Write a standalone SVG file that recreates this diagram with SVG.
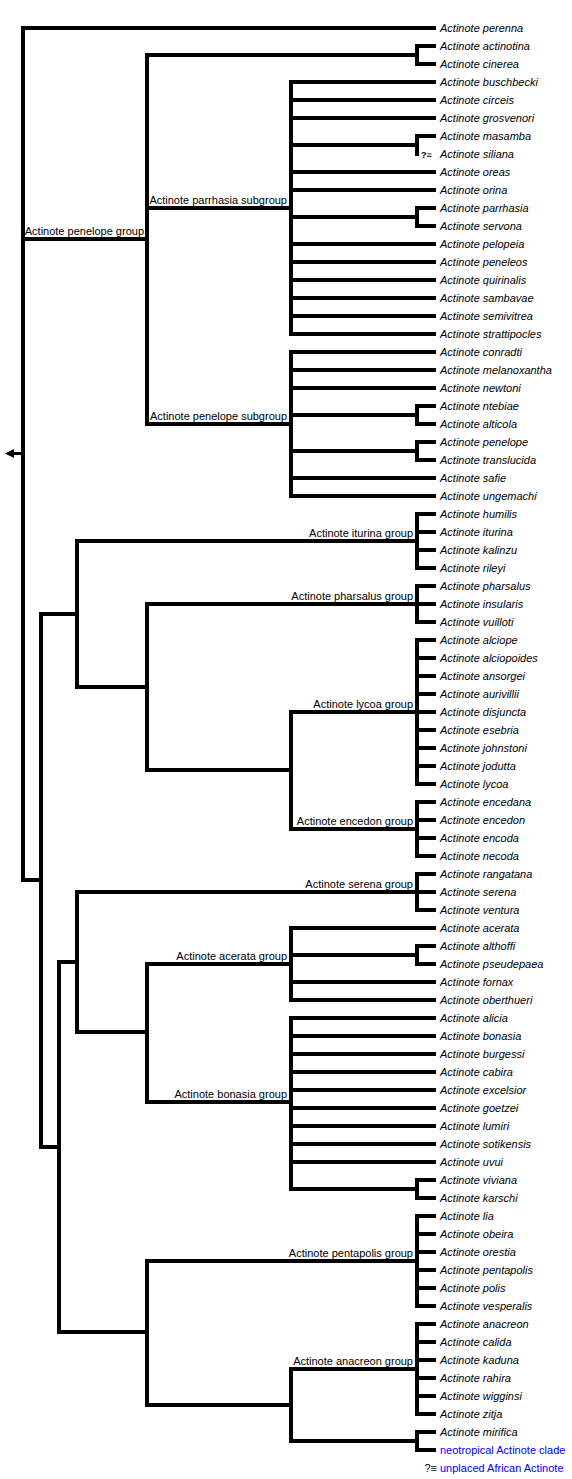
<svg xmlns="http://www.w3.org/2000/svg" width="572" height="1479" viewBox="0 0 572 1479">
<style>
.h{stroke:#000;stroke-width:4;fill:none;stroke-linecap:butt}
.v{stroke:#000;stroke-width:4;fill:none;stroke-linecap:square}
text{font-family:"Liberation Sans",Arial,sans-serif;font-size:11px;fill:#000}
.l{font-style:italic}
.g{text-anchor:end}
.b{fill:#0000ff}
</style>
<rect width="572" height="1479" fill="#fff"/>
<g id="connectors">
<path class="h" d="M23 28H436M23 239H147M23 880H41
M147 55H417M417 46H436M417 64H436
M147 208H291M147 424H291
M291 82H436M291 100H436M291 118H436
M291 145H417M417 136H436
M291 172H436M291 190H436
M291 217H417M417 208H436M417 226H436
M291 244H436M291 262H436M291 280H436M291 298H436M291 316H436M291 334H436
M291 352H436M291 370H436M291 388H436
M291 415H417M417 406H436M417 424H436
M291 451H417M417 442H436M417 460H436
M291 478H436M291 496H436
M41 614H77M41 1147H59
M77 541H417M417 514H436M417 532H436M417 550H436M417 568H436
M77 687H147
M147 604H417M417 586H436M417 604H436M417 622H436
M147 770H291
M291 712H417M417 640H436M417 658H436M417 676H436M417 694H436M417 712H436M417 730H436M417 748H436M417 766H436M417 784H436
M291 829H417M417 802H436M417 820H436M417 838H436M417 856H436
M59 962H77M59 1332H147
M77 892H417M417 874H436M417 892H436M417 910H436
M77 1032H147
M147 964H291M291 928H436M291 955H417M417 946H436M417 964H436M291 982H436M291 1000H436
M147 1102H291M291 1018H436M291 1036H436M291 1054H436M291 1072H436M291 1090H436M291 1108H436M291 1126H436M291 1144H436M291 1162H436
M291 1189H417M417 1180H436M417 1198H436
M147 1261H417M417 1216H436M417 1234H436M417 1252H436M417 1270H436M417 1288H436M417 1306H436
M147 1405H291
M291 1369H417M417 1324H436M417 1342H436M417 1360H436M417 1378H436M417 1396H436M417 1414H436
M291 1441H417M417 1432H436M417 1450H436"/>
<path class="v" d="M23 28V880M147 55V424M417 46V64M291 82V334M417 136V154M417 208V226
M291 352V496M417 406V424M417 442V460
M41 614V1147M77 541V687M417 514V568M147 604V770M417 586V622M291 712V829M417 640V784M417 802V856
M59 962V1332M77 892V1032M417 874V910M147 964V1102M291 928V1000M417 946V964M291 1018V1189M417 1180V1198
M147 1261V1405M417 1216V1306M291 1369V1441M417 1324V1414M417 1432V1450"/>
<line x1="14" y1="453.5" x2="21" y2="453.5" stroke="#000" stroke-width="3"/>
<polygon points="5,453.5 14,449 14,458" fill="#000"/>
</g>
<g id="groups">
<g id="n-penelope-group"><text class="g" x="144" y="235">Actinote penelope group</text></g>
<g id="n-parrhasia-subgroup"><text class="g" x="287" y="204">Actinote parrhasia subgroup</text></g>
<g id="n-penelope-subgroup"><text class="g" x="287" y="420">Actinote penelope subgroup</text></g>
<g id="n-iturina-group"><text class="g" x="413" y="537">Actinote iturina group</text></g>
<g id="n-pharsalus-group"><text class="g" x="413" y="600">Actinote pharsalus group</text></g>
<g id="n-lycoa-group"><text class="g" x="413" y="708">Actinote lycoa group</text></g>
<g id="n-encedon-group"><text class="g" x="413" y="825">Actinote encedon group</text></g>
<g id="n-serena-group"><text class="g" x="413" y="888">Actinote serena group</text></g>
<g id="n-acerata-group"><text class="g" x="287" y="960">Actinote acerata group</text></g>
<g id="n-bonasia-group"><text class="g" x="287" y="1098">Actinote bonasia group</text></g>
<g id="n-pentapolis-group"><text class="g" x="413" y="1257">Actinote pentapolis group</text></g>
<g id="n-anacreon-group"><text class="g" x="413" y="1365">Actinote anacreon group</text></g>
</g>
<g id="leaves">
<g id="l-perenna"><text class="l" x="440" y="32">Actinote perenna</text></g>
<g id="l-actinotina"><text class="l" x="440" y="50">Actinote actinotina</text></g>
<g id="l-cinerea"><text class="l" x="440" y="68">Actinote cinerea</text></g>
<g id="l-buschbecki"><text class="l" x="440" y="86">Actinote buschbecki</text></g>
<g id="l-circeis"><text class="l" x="440" y="104">Actinote circeis</text></g>
<g id="l-grosvenori"><text class="l" x="440" y="122">Actinote grosvenori</text></g>
<g id="l-masamba"><text class="l" x="440" y="140">Actinote masamba</text></g>
<g id="l-siliana"><text x="421" y="157.5" style="font-size:9px;font-weight:bold">?≡</text><text class="l" x="440" y="158">Actinote siliana</text></g>
<g id="l-oreas"><text class="l" x="440" y="176">Actinote oreas</text></g>
<g id="l-orina"><text class="l" x="440" y="194">Actinote orina</text></g>
<g id="l-parrhasia"><text class="l" x="440" y="212">Actinote parrhasia</text></g>
<g id="l-servona"><text class="l" x="440" y="230">Actinote servona</text></g>
<g id="l-pelopeia"><text class="l" x="440" y="248">Actinote pelopeia</text></g>
<g id="l-peneleos"><text class="l" x="440" y="266">Actinote peneleos</text></g>
<g id="l-quirinalis"><text class="l" x="440" y="284">Actinote quirinalis</text></g>
<g id="l-sambavae"><text class="l" x="440" y="302">Actinote sambavae</text></g>
<g id="l-semivitrea"><text class="l" x="440" y="320">Actinote semivitrea</text></g>
<g id="l-strattipocles"><text class="l" x="440" y="338">Actinote strattipocles</text></g>
<g id="l-conradti"><text class="l" x="440" y="356">Actinote conradti</text></g>
<g id="l-melanoxantha"><text class="l" x="440" y="374">Actinote melanoxantha</text></g>
<g id="l-newtoni"><text class="l" x="440" y="392">Actinote newtoni</text></g>
<g id="l-ntebiae"><text class="l" x="440" y="410">Actinote ntebiae</text></g>
<g id="l-alticola"><text class="l" x="440" y="428">Actinote alticola</text></g>
<g id="l-penelope"><text class="l" x="440" y="446">Actinote penelope</text></g>
<g id="l-translucida"><text class="l" x="440" y="464">Actinote translucida</text></g>
<g id="l-safie"><text class="l" x="440" y="482">Actinote safie</text></g>
<g id="l-ungemachi"><text class="l" x="440" y="500">Actinote ungemachi</text></g>
<g id="l-humilis"><text class="l" x="440" y="518">Actinote humilis</text></g>
<g id="l-iturina"><text class="l" x="440" y="536">Actinote iturina</text></g>
<g id="l-kalinzu"><text class="l" x="440" y="554">Actinote kalinzu</text></g>
<g id="l-rileyi"><text class="l" x="440" y="572">Actinote rileyi</text></g>
<g id="l-pharsalus"><text class="l" x="440" y="590">Actinote pharsalus</text></g>
<g id="l-insularis"><text class="l" x="440" y="608">Actinote insularis</text></g>
<g id="l-vuilloti"><text class="l" x="440" y="626">Actinote vuilloti</text></g>
<g id="l-alciope"><text class="l" x="440" y="644">Actinote alciope</text></g>
<g id="l-alciopoides"><text class="l" x="440" y="662">Actinote alciopoides</text></g>
<g id="l-ansorgei"><text class="l" x="440" y="680">Actinote ansorgei</text></g>
<g id="l-aurivillii"><text class="l" x="440" y="698">Actinote aurivillii</text></g>
<g id="l-disjuncta"><text class="l" x="440" y="716">Actinote disjuncta</text></g>
<g id="l-esebria"><text class="l" x="440" y="734">Actinote esebria</text></g>
<g id="l-johnstoni"><text class="l" x="440" y="752">Actinote johnstoni</text></g>
<g id="l-jodutta"><text class="l" x="440" y="770">Actinote jodutta</text></g>
<g id="l-lycoa"><text class="l" x="440" y="788">Actinote lycoa</text></g>
<g id="l-encedana"><text class="l" x="440" y="806">Actinote encedana</text></g>
<g id="l-encedon"><text class="l" x="440" y="824">Actinote encedon</text></g>
<g id="l-encoda"><text class="l" x="440" y="842">Actinote encoda</text></g>
<g id="l-necoda"><text class="l" x="440" y="860">Actinote necoda</text></g>
<g id="l-rangatana"><text class="l" x="440" y="878">Actinote rangatana</text></g>
<g id="l-serena"><text class="l" x="440" y="896">Actinote serena</text></g>
<g id="l-ventura"><text class="l" x="440" y="914">Actinote ventura</text></g>
<g id="l-acerata"><text class="l" x="440" y="932">Actinote acerata</text></g>
<g id="l-althoffi"><text class="l" x="440" y="950">Actinote althoffi</text></g>
<g id="l-pseudepaea"><text class="l" x="440" y="968">Actinote pseudepaea</text></g>
<g id="l-fornax"><text class="l" x="440" y="986">Actinote fornax</text></g>
<g id="l-oberthueri"><text class="l" x="440" y="1004">Actinote oberthueri</text></g>
<g id="l-alicia"><text class="l" x="440" y="1022">Actinote alicia</text></g>
<g id="l-bonasia"><text class="l" x="440" y="1040">Actinote bonasia</text></g>
<g id="l-burgessi"><text class="l" x="440" y="1058">Actinote burgessi</text></g>
<g id="l-cabira"><text class="l" x="440" y="1076">Actinote cabira</text></g>
<g id="l-excelsior"><text class="l" x="440" y="1094">Actinote excelsior</text></g>
<g id="l-goetzei"><text class="l" x="440" y="1112">Actinote goetzei</text></g>
<g id="l-lumiri"><text class="l" x="440" y="1130">Actinote lumiri</text></g>
<g id="l-sotikensis"><text class="l" x="440" y="1148">Actinote sotikensis</text></g>
<g id="l-uvui"><text class="l" x="440" y="1166">Actinote uvui</text></g>
<g id="l-viviana"><text class="l" x="440" y="1184">Actinote viviana</text></g>
<g id="l-karschi"><text class="l" x="440" y="1202">Actinote karschi</text></g>
<g id="l-lia"><text class="l" x="440" y="1220">Actinote lia</text></g>
<g id="l-obeira"><text class="l" x="440" y="1238">Actinote obeira</text></g>
<g id="l-orestia"><text class="l" x="440" y="1256">Actinote orestia</text></g>
<g id="l-pentapolis"><text class="l" x="440" y="1274">Actinote pentapolis</text></g>
<g id="l-polis"><text class="l" x="440" y="1292">Actinote polis</text></g>
<g id="l-vesperalis"><text class="l" x="440" y="1310">Actinote vesperalis</text></g>
<g id="l-anacreon"><text class="l" x="440" y="1328">Actinote anacreon</text></g>
<g id="l-calida"><text class="l" x="440" y="1346">Actinote calida</text></g>
<g id="l-kaduna"><text class="l" x="440" y="1364">Actinote kaduna</text></g>
<g id="l-rahira"><text class="l" x="440" y="1382">Actinote rahira</text></g>
<g id="l-wigginsi"><text class="l" x="440" y="1400">Actinote wigginsi</text></g>
<g id="l-zitja"><text class="l" x="440" y="1418">Actinote zitja</text></g>
<g id="l-mirifica"><text class="l" x="440" y="1436">Actinote mirifica</text></g>
<g id="l-neotropical"><text class="b" x="440" y="1454">neotropical Actinote clade</text></g>
</g>
<g id="legend"><text class="g" x="437" y="1472">?≡</text><text class="b" x="440" y="1472">unplaced African Actinote</text></g>
</svg>
